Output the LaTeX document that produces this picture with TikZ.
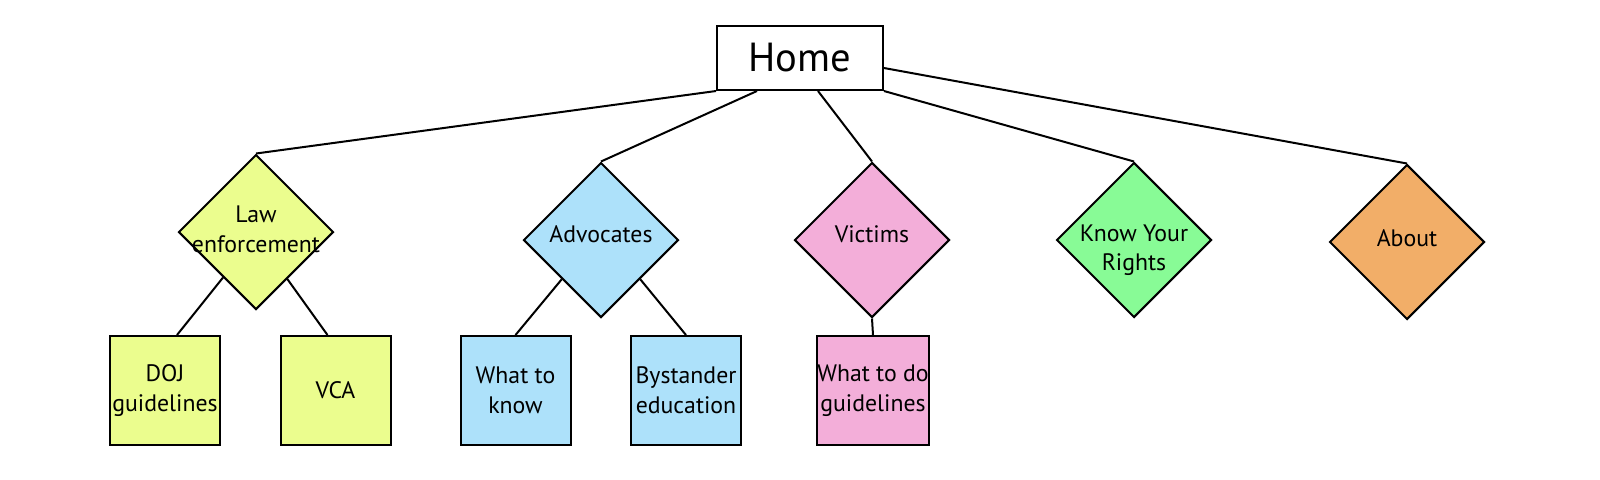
\documentclass[tikz,border=0pt]{standalone}
\usepackage{fontspec}
\setmainfont{PT Sans}
\usetikzlibrary{shapes.geometric,calc}
\definecolor{cLaw}{HTML}{EBFD8E}
\definecolor{cAdv}{HTML}{ADE1FA}
\definecolor{cVic}{HTML}{F3AED9}
\definecolor{cKyr}{HTML}{88FB96}
\definecolor{cAbt}{HTML}{F2AE68}
\begin{document}
\begin{tikzpicture}[x=0.5pt,y=-0.5pt,
  conn/.style={draw=black,line width=1pt},
  lbl/.style={font=\fontsize{11.9}{14.8}\selectfont,align=center,text=black,inner sep=0pt},
  dia/.style={diamond,draw=black,line width=1pt,inner sep=0pt,minimum width=77.5pt,minimum height=77.5pt,aspect=1},
  leaf/.style={rectangle,draw=black,line width=1pt,minimum width=55pt,minimum height=54.5pt,inner sep=0pt,lbl}
]
\useasboundingbox (0,0) rectangle (1600,479);
\node[draw=black,line width=1pt,minimum width=83pt,minimum height=32pt,inner sep=0pt,font=\fontsize{20.3}{24}\selectfont] (home) at (800,58) {Home};

\node[dia,fill=cLaw,label={[lbl,yshift=1.5pt]center:{Law\\enforcement}}] (law) at (256,232) {};
\node[dia,fill=cAdv,label={[lbl,yshift=3pt]center:Advocates}] (adv) at (601,240) {};
\node[dia,fill=cVic,label={[lbl,yshift=3pt]center:Victims}] (vic) at (872,240) {};
\node[dia,fill=cKyr,label={[lbl,yshift=-5pt]center:{Know Your\\Rights}}] (kyr) at (1134,240) {};
\node[dia,fill=cAbt,label={[lbl,yshift=2pt]center:About}] (abt) at (1407,242) {};

\node[leaf,fill=cLaw] (doj) at (165,390.5) {DOJ\\guidelines};
\node[leaf,fill=cLaw] (vca) at (335.5,390.5) {VCA};
\node[leaf,fill=cAdv] (wtk) at (515.5,390.5) {What to\\know};
\node[leaf,fill=cAdv] (bys) at (686,390.5) {Bystander\\education};
\node[leaf,fill=cVic] (wtd) at (873,390.5) {What to do\\guidelines};

\draw[conn] (home.south west) -- (law.north);
\draw[conn] ($(home.south west)+(41,0)$) -- (adv.north);
\draw[conn] ($(home.south west)+(102,0)$) -- (vic.north);
\draw[conn] (home.south east) -- (kyr.north);
\draw[conn] ($(home.south east)+(0,-23)$) -- (abt.north);

\draw[conn] ($(law.west)!0.58!(law.south)$) -- ($(doj.north)+(12,0)$);
\draw[conn] ($(law.east)!0.6!(law.south)$) -- ($(vca.north)+(-8,0)$);
\draw[conn] ($(adv.west)!0.5!(adv.south)$) -- (wtk.north);
\draw[conn] ($(adv.east)!0.5!(adv.south)$) -- (bys.north);
\draw[conn] (vic.south) -- (wtd.north);
\end{tikzpicture}
\end{document}
